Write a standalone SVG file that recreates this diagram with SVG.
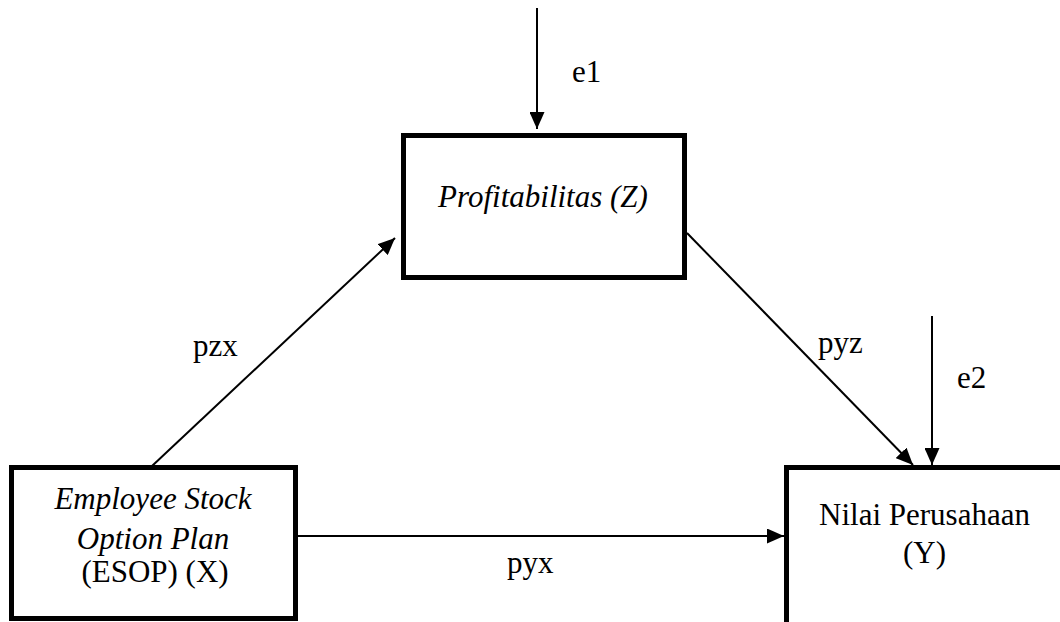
<svg xmlns="http://www.w3.org/2000/svg" width="1060" height="622" viewBox="0 0 1060 622">
<style>
.box{fill:#fff;stroke:#000;stroke-width:5}
.ln{stroke:#000;stroke-width:2;fill:none;marker-end:url(#ah)}
.t{font-family:'Liberation Serif','Times New Roman',serif;font-size:31px;fill:#000}
.it{font-style:italic}
.c{text-anchor:middle}
</style>
<defs>
<marker id="ah" markerUnits="userSpaceOnUse" markerWidth="17" markerHeight="15" refX="17" refY="7.5" orient="auto">
<path d="M0,0 L17,7.5 L0,15 z" fill="#000"/>
</marker>
</defs>
<rect width="1060" height="622" fill="#fff"/>
<g id="connectors">
<line class="ln" x1="537" y1="8" x2="537" y2="129"/>
<line class="ln" x1="152" y1="466" x2="395" y2="238"/>
<line class="ln" x1="687" y1="233" x2="913" y2="465"/>
<line class="ln" x1="932" y1="316" x2="932" y2="465"/>
<line class="ln" x1="298" y1="536" x2="784" y2="536"/>
<text class="t" x="572" y="82">e1</text>
<text class="t" x="193" y="356">pzx</text>
<text class="t" x="818" y="353">pyz</text>
<text class="t" x="957" y="388">e2</text>
<text class="t" x="507" y="573">pyx</text>
</g>
<g id="node-z">
<rect class="box" x="403.5" y="135.5" width="281" height="142"/>
<text class="t it c" x="543" y="207">Profitabilitas (Z)</text>
</g>
<g id="node-x">
<rect class="box" x="11.5" y="467.5" width="284" height="151"/>
<text class="t it c" x="153" y="509">Employee Stock</text>
<text class="t it c" x="153" y="549">Option Plan</text>
<text class="t c" x="155" y="582">(ESOP) (X)</text>
</g>
<g id="node-y">
<rect class="box" x="786.5" y="467.5" width="300" height="200"/>
<text class="t c" x="924.5" y="525">Nilai Perusahaan</text>
<text class="t c" x="924.5" y="563">(Y)</text>
</g>
</svg>
